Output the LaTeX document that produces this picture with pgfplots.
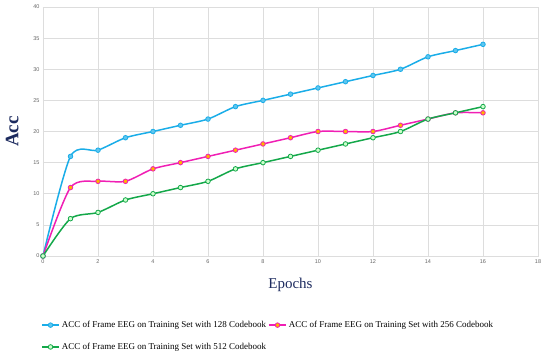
\documentclass[border=0pt]{standalone}
\usepackage{pgfplots}
\pgfplotsset{compat=1.18}
\usepackage{fontspec}
\setmainfont{Liberation Serif}
\setsansfont{Liberation Sans}
\definecolor{cblue}{HTML}{1AADE8}
\definecolor{cpink}{HTML}{F01FB4}
\definecolor{cgreen}{HTML}{14A84A}
\definecolor{navy}{HTML}{1C2A5E}
\definecolor{gridc}{HTML}{DDDDDD}
\begin{document}
\begin{tikzpicture}
\useasboundingbox (-43pt,-106pt) rectangle (507pt,256pt);
\begin{axis}[
  at={(0pt,0pt)}, anchor=south west,
  scale only axis, width=495pt, height=249pt,
  xmin=0, xmax=18, ymin=0, ymax=40,
  xtick={0,2,...,18}, ytick={0,5,...,40},
  grid=major, major grid style={gridc, line width=0.6pt},
  axis line style={gridc, line width=0.6pt},
  tick style={draw=none},
  ticklabel style={font=\sffamily\fontsize{5.5}{6}\selectfont, text=black!60},
  /pgf/number format/assume math mode=true,
  xlabel={Epochs}, ylabel={Acc},
  xlabel style={font=\fontsize{15}{16}\selectfont, text=navy, yshift=-8pt},
  ylabel style={font=\bfseries\fontsize{19}{20}\selectfont, text=navy, yshift=8pt},
  legend columns=2,
  legend style={at={(-0.01,-0.245)}, anchor=north west, draw=none, fill=none,
    font=\fontsize{9}{11}\selectfont, row sep=10pt,
    /tikz/every even column/.append style={column sep=0pt}},
  legend cell align=left,
  every axis plot/.append style={line width=1.5pt, smooth, tension=0.45},
]
\addplot[cblue, mark=*, mark size=2.3pt, mark options={fill=cblue!70!white, line width=0.8pt}] coordinates {
(0,0)(1,16)(2,17)(3,19)(4,20)(5,21)(6,22)(7,24)(8,25)(9,26)(10,27)(11,28)(12,29)(13,30)(14,32)(15,33)(16,34)};
\addlegendentry{ACC of Frame EEG on Training Set with 128 Codebook}
\addplot[cpink, mark=*, mark size=2.3pt, mark options={fill=orange!60!yellow, line width=0.8pt}] coordinates {
(0,0)(1,11)(2,12)(3,12)(4,14)(5,15)(6,16)(7,17)(8,18)(9,19)(10,20)(11,20)(12,20)(13,21)(14,22)(15,23)(16,23)};
\addlegendentry{ACC of Frame EEG on Training Set with 256 Codebook}
\addplot[cgreen, mark=*, mark size=2.3pt, mark options={fill=green!20!white, line width=0.8pt}] coordinates {
(0,0)(1,6)(2,7)(3,9)(4,10)(5,11)(6,12)(7,14)(8,15)(9,16)(10,17)(11,18)(12,19)(13,20)(14,22)(15,23)(16,24)};
\addlegendentry{ACC of Frame EEG on Training Set with 512 Codebook}
\end{axis}
\end{tikzpicture}
\end{document}
